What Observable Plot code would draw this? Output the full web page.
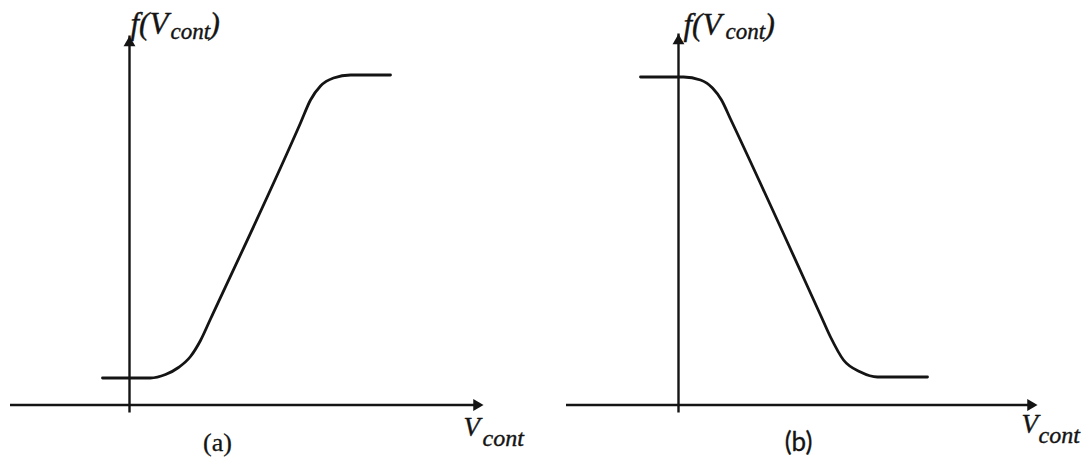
<!DOCTYPE html>
<html>
<head>
<meta charset="utf-8">
<script src="https://cdn.jsdelivr.net/npm/d3@7"></script>
<script src="https://cdn.jsdelivr.net/npm/@observablehq/plot@0.6"></script>
<style>
  html, body { margin: 0; padding: 0; background: #fff; }
  #figure { display: flex; width: 1084px; height: 466px; overflow: hidden; }
  #figure svg { display: block; background: #fff; }
</style>
</head>
<body>
<div id="figure"></div>
<script>
// Oscillator tuning characteristic f(Vcont) against the control voltage Vcont,
// in arbitrary units measured from each panel's origin.

// (a) rising characteristic
const vcontA = [-2.7, 2.1, 3.6, 4.9, 6.1, 7.1, 8.1, 17.1, 18.1, 19.1, 20.4, 22.1, 26.1];
const fA     = [ 2.7, 2.7, 3.05, 3.75, 4.85, 6.45, 8.6, 28.2, 30.5, 31.9, 32.7, 33.0, 33.0];

// (b) falling characteristic
const vcontB = [-3.8, 0.5, 2.2, 3.4, 4.3, 5.2, 14.2, 15.2, 16.5, 18.2, 19.9, 24.9];
const fB     = [32.8, 32.8, 32.5, 31.7, 30.5, 28.6, 9.0, 6.8, 4.5, 3.3, 2.8, 2.8];

// Axis extents: [start of Vcont axis, Vcont arrow tip, f arrow tip]
const axisA = [-11.9, 35.4, 36.9];
const axisB = [-11.2, 35.9, 37.1];

// Panel captions and their Vcont position
const captions = ["(a)", "(b)"];
const captionVcont = [8.8, 12.0];
const captionF = -4.6;

// Axis titles, split into main text and subscript
const fTitle = ["f(V", "cont", ")"];
const vTitle = ["V", "cont"];

const INK = "#141414";
const SERIF = "Liberation Serif";
const SANS = "Lato";
const HEIGHT = 466;
const ORIGIN_X = 129;   // pixel column of the f axis inside each panel
const ORIGIN_Y = 404.5; // pixel row of the Vcont axis
const PX = 10;          // pixels per unit

function panel({vcont, f, axis, caption, captionX, captionFont, captionSize, width, fLab, vLab}) {
  const curve = vcont.map((v, i) => ({v, f: f[i]}));
  const fTip = [{v: 0, f: axis[2]}];
  const vTip = [{v: axis[1], f: 0}];
  const textStyle = {
    fill: INK, stroke: INK, strokeWidth: 0.4,
    fontFamily: SERIF, fontStyle: "italic", textAnchor: "start", lineAnchor: "bottom"
  };
  return Plot.plot({
    width,
    height: HEIGHT,
    marginTop: 0, marginRight: 0, marginBottom: 0, marginLeft: 0,
    x: {domain: [-ORIGIN_X / PX, (width - ORIGIN_X) / PX], range: [0, width], axis: null},
    y: {domain: [(ORIGIN_Y - HEIGHT) / PX, ORIGIN_Y / PX], range: [HEIGHT, 0], axis: null},
    marks: [
      // Vcont axis with arrowhead
      Plot.ruleY([{y: 0, x1: axis[0], x2: axis[1]}], {y: "y", x1: "x1", x2: "x2", stroke: INK, strokeWidth: 2.4, insetRight: 8}),
      Plot.dot(vTip, {x: "v", y: "f", symbol: "triangle", r: 4.4, rotate: 90, dx: -6.8, fill: INK, stroke: "none"}),
      // f axis with arrowhead
      Plot.ruleX([{x: 0, y1: 0, y2: axis[2]}], {x: "x", y1: "y1", y2: "y2", stroke: INK, strokeWidth: 2.4, insetTop: 8}),
      Plot.dot(fTip, {x: "v", y: "f", symbol: "triangle", r: 4.4, rotate: 0, dy: 6.8, fill: INK, stroke: "none"}),
      // characteristic
      Plot.line(curve, {x: "v", y: "f", curve: "monotone-x", stroke: INK, strokeWidth: 2.8, strokeLinejoin: "round"}),
      // f(Vcont) title
      Plot.text(fTip, {x: "v", y: "f", text: () => fTitle[0], fontSize: 31, dx: fLab.dx, dy: fLab.dy, ...textStyle}),
      Plot.text(fTip, {x: "v", y: "f", text: () => fTitle[1], fontSize: 23, dx: fLab.subDx, dy: fLab.subDy, ...textStyle}),
      Plot.text(fTip, {x: "v", y: "f", text: () => fTitle[2], fontSize: 31, dx: fLab.closeDx, dy: fLab.dy, ...textStyle}),
      // Vcont title
      Plot.text(vTip, {x: "v", y: "f", text: () => vTitle[0], fontSize: 27, dx: vLab.dx, dy: vLab.dy, ...textStyle}),
      Plot.text(vTip, {x: "v", y: "f", text: () => vTitle[1], fontSize: 24, dx: vLab.subDx, dy: vLab.subDy, ...textStyle}),
      // panel caption
      Plot.text([{v: captionX, f: captionF, t: caption}], {
        x: "v", y: "f", text: "t", fill: INK, stroke: INK, strokeWidth: 0.3, fontFamily: captionFont,
        fontSize: captionSize, textAnchor: "middle", lineAnchor: "bottom"
      })
    ]
  });
}

const fig = document.getElementById("figure");
fig.append(panel({
  vcont: vcontA, f: fA, axis: axisA, caption: captions[0], captionX: captionVcont[0],
  captionFont: SERIF, captionSize: 26, width: 549,
  fLab: {dx: 1, dy: -2, subDx: 41, subDy: 3, closeDx: 80},
  vLab: {dx: -20, dy: 31, subDx: -1, subDy: 41}
}));
fig.append(panel({
  vcont: vcontB, f: fB, axis: axisB, caption: captions[1], captionX: captionVcont[1],
  captionFont: SANS, captionSize: 26, width: 535,
  fLab: {dx: 5, dy: 1, subDx: 47, subDy: 5, closeDx: 86},
  vLab: {dx: -16, dy: 28, subDx: 1, subDy: 38}
}));
</script>
</body>
</html>
